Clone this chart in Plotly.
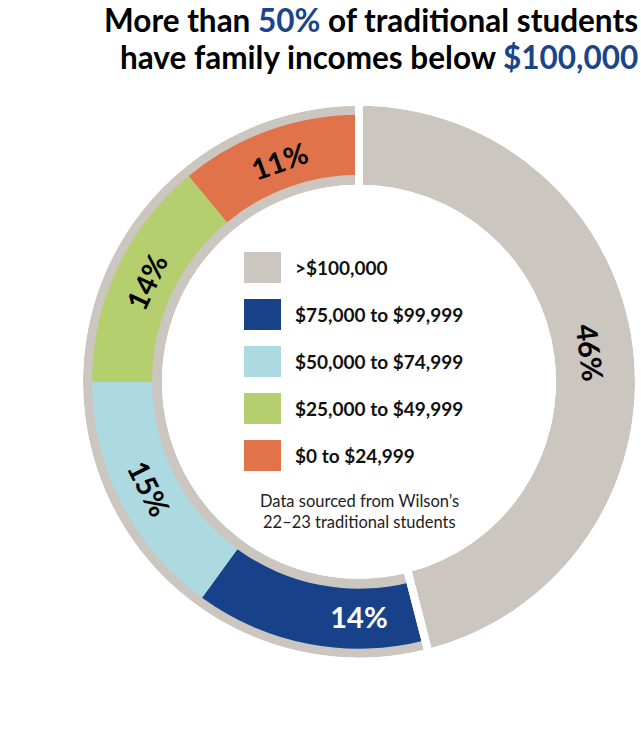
import plotly.graph_objects as go

W, H = 641, 740

# ---- data ----
categories = [">$100,000", "$75,000 to $99,999", "$50,000 to $74,999",
              "$25,000 to $49,999", "$0 to $24,999"]
values = [46, 14, 15, 14, 11]
colors = ["#CCC6C0", "#17428A", "#ADD9E1", "#B5CF6E", "#E07349"]
label_colors = ["#000000", "#FFFFFF", "#000000", "#000000", "#000000"]
top_share = values[0]
rest_share = sum(values[1:])

FONT = "Lato"
BLUE = "#1B4589"

# geometry (pixels)
CX, CY = 359, 381.7
R_RING, R_RING_IN = 276, 197
R_COL, R_COL_IN = 267, 207
GAP = 8


def dom(r):
    return dict(x=[max(0, (CX - r) / W), min(1, (CX + r) / W)],
                y=[max(0, (H - CY - r) / H), min(1, (H - CY + r) / H)])


fig = go.Figure()

# gray background ring: top slice vs the rest
fig.add_trace(go.Pie(
    values=[top_share, rest_share], labels=["top", "rest"],
    sort=False, direction="clockwise", rotation=0,
    hole=R_RING_IN / R_RING, domain=dom(R_RING),
    marker=dict(colors=[colors[0], colors[0]], line=dict(width=0)),
    text=[f"{top_share}%", ""], textinfo="text", textposition="inside",
    insidetextorientation="tangential",
    textfont=dict(family=FONT, size=29, color=label_colors[0], weight="bold"),
    showlegend=False, hoverinfo="skip",
))

# coloured inner band
fig.add_trace(go.Pie(
    values=values, labels=categories,
    sort=False, direction="clockwise", rotation=0,
    hole=R_COL_IN / R_COL, domain=dom(R_COL),
    marker=dict(colors=["rgba(0,0,0,0)"] + colors[1:], line=dict(width=0)),
    text=[""] + [f"{v}%" for v in values[1:]], textinfo="text",
    textposition="inside", insidetextorientation="tangential",
    textfont=dict(family=FONT, size=29, color=label_colors, weight="bold"),
    showlegend=False, hoverinfo="skip",
))

# white separators between top slice and the rest
R_SEP = R_RING + GAP / 2
fig.add_trace(go.Pie(
    values=[top_share, rest_share], labels=["top", "rest"],
    sort=False, direction="clockwise", rotation=0,
    hole=(R_RING_IN - GAP / 2) / R_SEP, domain=dom(R_SEP),
    marker=dict(colors=["rgba(0,0,0,0)"] * 2, line=dict(width=GAP, color="white")),
    textinfo="none", showlegend=False, hoverinfo="skip",
))

shapes = []
annotations = []

# legend inside the hole
for i, (cat, col) in enumerate(zip(categories, colors)):
    top = 252 + 47 * i
    shapes.append(dict(type="rect", xref="paper", yref="paper",
                       x0=244 / W, x1=281 / W,
                       y0=1 - (top + 31) / H, y1=1 - top / H,
                       fillcolor=col, line=dict(width=0)))
    annotations.append(dict(text=cat, xref="paper", yref="paper",
                            x=293 / W, y=1 - (top + 15.5) / H,
                            xanchor="left", yanchor="middle", showarrow=False,
                            font=dict(family=FONT, size=19, color="#111111", weight="bold")))

# source note
for txt, yy in [("Data sourced from Wilson’s", 501), ("22–23 traditional students", 522)]:
    annotations.append(dict(text=txt, xref="paper", yref="paper",
                            x=CX / W, y=1 - yy / H, xanchor="center", yanchor="middle",
                            showarrow=False,
                            font=dict(family=FONT, size=16.5, color="#222222")))

# title
title_lines = [
    f"More than <span style='color:{BLUE}'>50%</span> of traditional students",
    f"have family incomes below <span style='color:{BLUE}'>$100,000</span>",
]
for txt, yy in zip(title_lines, [19.5, 57]):
    annotations.append(dict(text=txt, xref="paper", yref="paper",
                            x=639 / W, y=1 - yy / H, xanchor="right", yanchor="middle",
                            showarrow=False, borderpad=0,
                            font=dict(family=FONT, size=31.5, color="#000000", weight="bold")))

fig.update_layout(
    width=W, height=H, margin=dict(l=0, r=0, t=0, b=0),
    paper_bgcolor="white", plot_bgcolor="white",
    shapes=shapes, annotations=annotations, showlegend=False,
)

fig.write_html("out.html")
